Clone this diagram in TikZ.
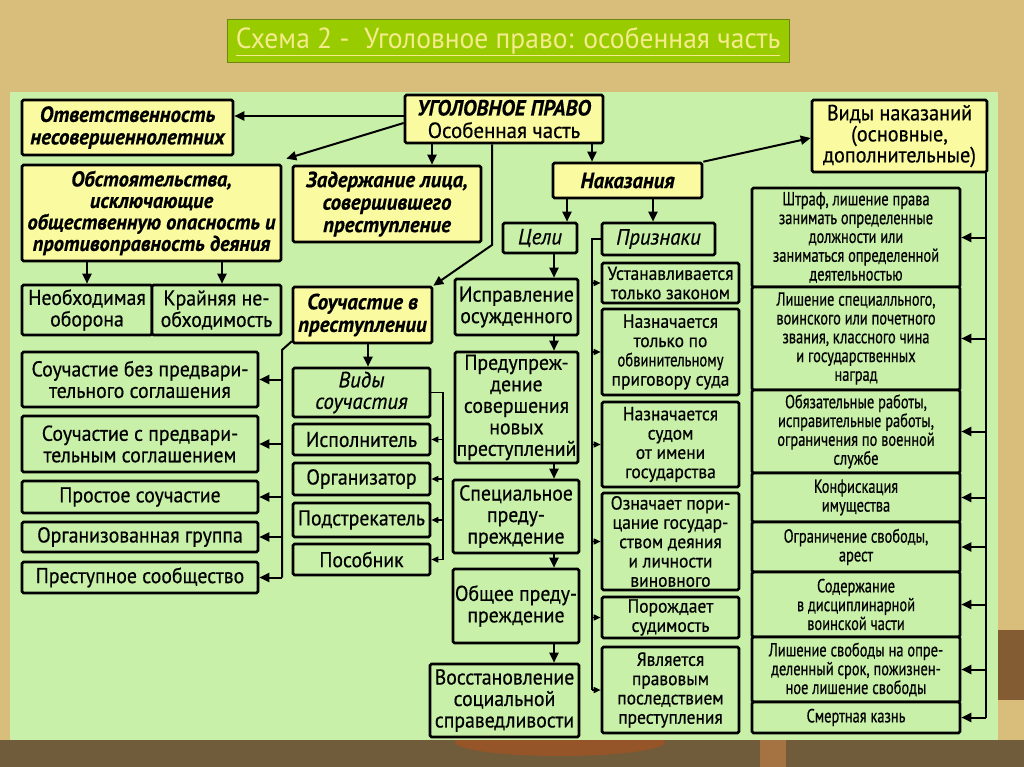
\documentclass[tikz,border=0pt]{standalone}
\usepackage{fontspec}
\usepackage{graphicx}
\setmainfont{PT Sans}[FakeStretch=0.76,FakeBold=0.5]
\newfontfamily\wfont{PT Sans}[FakeStretch=0.92,FakeBold=0.5]
\newfontfamily\hfont{PT Sans}[FakeStretch=0.95,FakeBold=0.5]
\newfontfamily\tfont{PT Sans}[FakeStretch=0.95]
\usetikzlibrary{arrows.meta}
\definecolor{bgtan}{RGB}{216,190,122}
\definecolor{panel}{RGB}{200,240,168}
\definecolor{yel}{RGB}{250,250,160}
\definecolor{ttlg}{RGB}{153,204,0}
\definecolor{ttlb}{RGB}{110,135,20}
\definecolor{ttlt}{RGB}{245,235,140}
\definecolor{floorc}{RGB}{112,92,58}
\definecolor{rust}{RGB}{150,85,40}
\definecolor{postc}{RGB}{165,115,65}
\newcommand\mkbox[7]{%
  \pgfmathsetmacro\mbw{#4-#2}\pgfmathsetmacro\mbh{#5-#3}%
  \node[#6,minimum width=\mbw pt,minimum height=\mbh pt] (#1) at ({(#2+#4)/2},{(#3+#5)/2}) {#7};}
\tikzset{
 box/.style={draw=black,line width=2.6pt,rounded corners=1.5pt,inner sep=1pt,align=center,text=black},
 hy/.style={box,fill=yel,font=\hfont\bfseries\itshape\fontsize{22}{22.5}\selectfont},
 hyo/.style={box,fill=yel,font=\hfont\bfseries\itshape\fontsize{21.5}{21.5}\selectfont},
 yr/.style={box,fill=yel,font=\wfont\fontsize{22}{21}\selectfont},
 gr/.style={box,fill=panel,font=\wfont\fontsize{21.5}{21.5}\selectfont},
 gp/.style={box,fill=panel,font=\wfont\fontsize{19}{19.3}\selectfont},
 gs/.style={box,fill=panel,font=\fontsize{19}{18.8}\selectfont},
 gi/.style={box,fill=panel,font=\hfont\itshape\fontsize{22}{21.5}\selectfont},
 ln/.style={line width=2pt,draw=black},
 arr/.style={ln,-{Triangle[length=10pt,width=9pt]}},
 thin/.style={line width=1.5pt,draw=black},
 sarr/.style={thin,-{Triangle[length=7pt,width=6pt]}},
 ttl/.style={draw=ttlb,line width=1pt,fill=ttlg,text=ttlt,font=\tfont\fontsize{29}{30}\selectfont,inner sep=0pt}
}
\begin{document}
\begin{tikzpicture}[x=1pt,y=-1pt]
\useasboundingbox (0,0) rectangle (1024,767);
% background
\fill[bgtan] (0,0) rectangle (1024,767);
\fill[floorc] (0,740) rectangle (1024,767);
\fill[rust] (560,742) ellipse [x radius=105pt, y radius=14pt];
\fill[postc] (760,740) rectangle (786,767);
\fill[postc!80!black] (998,630) rectangle (1024,700);
\fill[panel] (10,92) rectangle (998,740);
% title
\mkbox{title}{227}{20}{789}{63}{ttl}{\underline{Схема 2 -\ \ Уголовное право: особенная часть}}
% top
\mkbox{up}{405}{95}{603}{143}{hy}{УГОЛОВНОЕ ПРАВО\\{\mdseries\upshape Особенная часть}}
\mkbox{otv}{22}{100}{233}{155}{hy}{Ответственность\\несовершеннолетних}
\mkbox{obs}{22}{165}{281}{261}{hyo}{Обстоятельства,\\исключающие\\общественную опасность и\\противоправность деяния}
\mkbox{neo}{22}{285}{152}{335}{gr}{Необходимая\\оборона}
\mkbox{kra}{152}{285}{281}{335}{gr}{Крайняя не-\\обходимость}
\mkbox{zad}{293}{166}{481}{242}{hy}{Задержание лица,\\совершившего\\преступление}
\mkbox{nak}{553}{163}{702}{198}{hy}{Наказания}
\mkbox{celi}{503}{223}{577}{253}{gi}{Цели}
\mkbox{priz}{602}{223}{715}{255}{gi}{Признаки}
\mkbox{vn}{812}{100}{987}{172}{yr}{Виды наказаний\\(основные,\\дополнительные)}
\mkbox{soy}{293}{287}{432}{343}{hy}{Соучастие в\\преступлении}
% left column
\mkbox{s1}{22}{352}{258}{407}{gr}{Соучастие без предвари-\\тельного соглашения}
\mkbox{s2}{22}{416}{258}{472}{gr}{Соучастие с предвари-\\тельным соглашением}
\mkbox{s3}{22}{481}{258}{513}{gr}{Простое соучастие}
\mkbox{s4}{22}{522}{258}{552}{gr}{Организованная группа}
\mkbox{s5}{22}{562}{258}{593}{gr}{Преступное сообщество}
% kinds of complicity
\mkbox{vs}{293}{368}{430}{417}{gi}{Виды\\соучастия}
\mkbox{v1}{293}{424}{430}{455}{gr}{Исполнитель}
\mkbox{v2}{293}{463}{430}{495}{gr}{Организатор}
\mkbox{v3}{293}{503}{430}{537}{gr}{Подстрекатель}
\mkbox{v4}{293}{544}{430}{575}{gr}{Пособник}
% goals
\mkbox{g1}{455}{279}{578}{335}{gr}{Исправление\\осужденного}
\mkbox{g2}{455}{352}{578}{463}{gr}{Предупреж-\\дение\\совершения\\новых\\преступлений}
\mkbox{g3}{453}{480}{579}{553}{gr}{Специальное\\преду-\\преждение}
\mkbox{g4}{453}{569}{579}{643}{gr}{Общее преду-\\преждение}
\mkbox{g5}{430}{664}{579}{737}{gr}{Восстановление\\социальной\\справедливости}
% signs
\mkbox{p1}{602}{263}{739}{303}{gp}{Устанавливается\\только законом}
\mkbox{p2}{602}{309}{739}{395}{gp}{Назначается\\только по\\\scalebox{0.84}[1]{обвинительному}\\приговору суда}
\mkbox{p3}{602}{402}{739}{487}{gp}{Назначается\\судом\\от имени\\государства}
\mkbox{p4}{602}{493}{739}{590}{gp}{Означает пори-\\цание государ-\\ством деяния\\и личности\\виновного}
\mkbox{p5}{602}{597}{739}{638}{gp}{Порождает\\судимость}
\mkbox{p6}{602}{647}{739}{733}{gp}{Является\\правовым\\последствием\\преступления}
% kinds of punishment
\mkbox{r1}{752}{188}{960}{287}{gs}{Штраф, лишение права\\занимать определенные\\должности или\\заниматься определенной\\деятельностью}
\mkbox{r2}{752}{287}{960}{390}{gs}{Лишение специалльного,\\воинского или почетного\\звания, классного чина\\и государственных\\наград}
\mkbox{r3}{752}{390}{960}{473}{gs}{Обязательные работы,\\исправительные работы,\\ограничения по военной\\службе}
\mkbox{r4}{752}{473}{960}{522}{gs}{Конфискация\\имущества}
\mkbox{r5}{752}{522}{960}{572}{gs}{Ограничение свободы,\\арест}
\mkbox{r6}{752}{572}{960}{637}{gs}{Содержание\\в дисциплинарной\\воинской части}
\mkbox{r7}{752}{637}{960}{702}{gs}{Лишение свободы на опре-\\деленный срок, пожизнен-\\ное лишение свободы}
\mkbox{r8}{752}{702}{960}{733}{gs}{Смертная казнь}
% helper coordinates
\coordinate (y116) at (0,116);
\coordinate (y123) at (0,123);
\coordinate (y138) at (0,138);
\coordinate (x432) at (432,0);
\coordinate (x492) at (492,0);
\coordinate (x592) at (592,0);
\coordinate (x567) at (567,0);
\coordinate (x653) at (653,0);
\coordinate (x87) at (87,0);
\coordinate (x222) at (222,0);
\coordinate (x368) at (368,0);
\coordinate (x554) at (554,0);
\coordinate (k1) at (492,245);
\coordinate (lb) at (282,350);
\coordinate (vb) at (443,0);
\coordinate (pb) at (592,0);
\coordinate (rb) at (986,0);
% connectors
\draw[arr] (up.west |- y116) -- (otv.east |- y116);
\draw[arr] (up.west |- y123) -- ([xshift=4pt,yshift=5pt]obs.north east);
\draw[arr] (up.south -| x432) -- (zad.north -| x432);
\draw[arr] (up.south -| x492) -- (k1) -- (soy.north east);
\draw[arr] (up.south -| x592) -- (nak.north -| x592);
\draw[arr] (nak.north east) -- (vn.west |- y138);
\draw[arr] (nak.south -| x567) -- (celi.north -| x567);
\draw[arr] (nak.south -| x653) -- (priz.north -| x653);
\draw[arr] (obs.south -| x87) -- (neo.north -| x87);
\draw[arr] (obs.south -| x222) -- (kra.north -| x222);
\draw[arr] (soy.south -| x368) -- (vs.north -| x368);
\foreach \a/\b in {celi/g1,g1/g2,g2/g3,g3/g4,g4/g5}
  \draw[arr] (\a.south -| x554) -- (\b.north -| x554);
% complicity bracket (left)
\draw[ln] ([yshift=3pt]soy.south west) -- (lb) -- (lb |- s5.east);
\foreach \n in {s1,s2,s3,s4,s5}
  \draw[arr] (lb |- \n.east) -- (\n.east);
% kinds of complicity bracket
\draw[thin] (vs.east) -- (vs.east -| vb) -- (vb |- v4.east);
\foreach \n in {v1,v2,v3,v4}
  \draw[sarr] (vb |- \n.east) -- (\n.east);
% signs bracket
\draw[thin] (priz.west) -- (priz.west -| pb) -- (pb |- p6.west);
\foreach \n in {p1,p2,p3,p4,p5,p6}
  \draw[sarr] (pb |- \n.west) -- (\n.west);
% punishments bracket
\draw[thin] (vn.south -| rb) -- (rb |- r8.east);
\foreach \n in {r1,r2,r3,r4,r5,r6,r7,r8}
  \draw[arr] (rb |- \n.east) -- (\n.east);
\end{tikzpicture}
\end{document}
